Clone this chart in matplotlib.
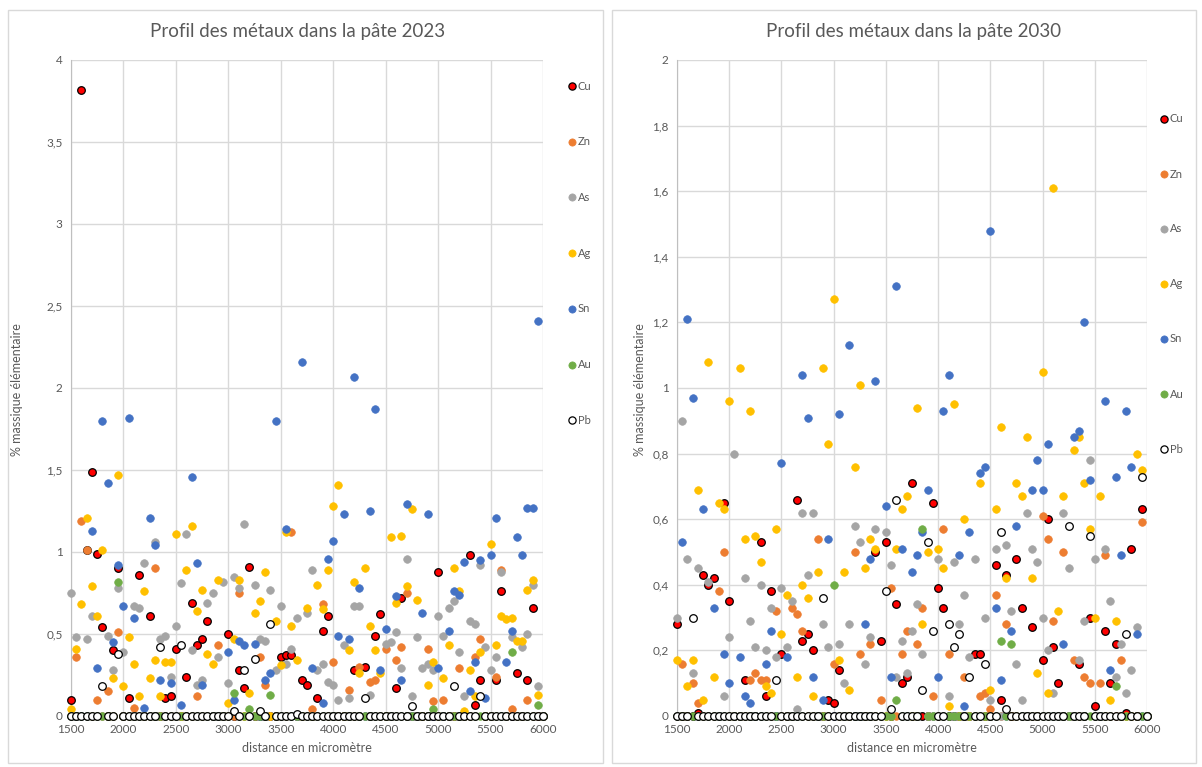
import matplotlib
matplotlib.use("Agg")
import matplotlib.pyplot as plt
from matplotlib.patches import Rectangle
from matplotlib.ticker import FuncFormatter
from matplotlib.lines import Line2D

# ---------------- data ----------------
distance = list(range(1500, 6001, 50))
series_names = ["Cu", "Zn", "As", "Ag", "Sn", "Au", "Pb"]

# 2023 (values not listed are 0)
cu_2023 = {1500: 0.10, 1600: 3.82, 1650: 1.01, 1700: 1.49, 1750: 0.99, 1800: 0.54, 1900: 0.40, 1950: 0.90,
           2050: 0.11, 2150: 0.86, 2250: 0.61, 2400: 0.11, 2450: 0.12, 2500: 0.41, 2600: 0.24, 2650: 0.69,
           2700: 0.43, 2750: 0.47, 2800: 0.58, 3000: 0.50, 3100: 0.28, 3150: 0.17, 3200: 0.91, 3500: 0.36,
           3550: 0.37, 3600: 0.37, 3700: 0.22, 3750: 0.19, 3850: 0.11, 3900: 0.52, 3950: 0.61, 4200: 0.28,
           4300: 0.30, 4400: 0.49, 4450: 0.62, 4600: 0.17, 4650: 0.72, 5000: 0.88, 5300: 0.98, 5350: 0.07,
           5400: 0.22, 5550: 0.22, 5600: 0.76, 5750: 0.26, 5850: 0.22, 5900: 0.66}
zn_2023 = {1550: 0.36, 1600: 1.19, 1650: 1.01, 1750: 0.10, 1850: 0.15, 1950: 0.51, 2100: 0.05, 2300: 0.90,
           2700: 0.12, 2900: 0.43, 3100: 0.75, 3300: 0.36, 3350: 0.19, 3600: 1.12, 3800: 0.04, 3900: 0.68,
           4000: 0.33, 4150: 0.16, 4250: 0.30, 4350: 0.21, 4400: 0.22, 4500: 0.41, 4600: 0.34, 4650: 0.42,
           4700: 0.75, 4900: 0.41, 4950: 0.09, 5050: 0.10, 5200: 0.29, 5350: 0.36, 5400: 0.47, 5550: 0.24,
           5600: 0.89, 5700: 0.04, 5850: 0.10}
as_2023 = {1500: 0.75, 1550: 0.48, 1650: 0.47, 1700: 0.61, 1850: 0.49, 1900: 0.28, 1950: 0.78, 2000: 0.39,
           2100: 0.67, 2150: 0.66, 2200: 0.93, 2300: 1.06, 2350: 0.47, 2400: 0.49, 2450: 0.24, 2500: 0.55,
           2550: 0.81, 2600: 1.11, 2650: 0.40, 2700: 0.19, 2750: 0.22, 2800: 0.69, 2850: 0.75, 2900: 0.36,
           2950: 0.82, 3000: 0.20, 3050: 0.85, 3100: 0.78, 3150: 1.17, 3250: 0.80, 3300: 0.47, 3350: 0.46,
           3400: 0.77, 3450: 0.28, 3500: 0.67, 3550: 0.32, 3600: 0.41, 3650: 0.60, 3750: 0.63, 3800: 0.89,
           3850: 0.28, 3900: 0.32, 3950: 0.21, 4000: 0.19, 4050: 0.10, 4100: 0.43, 4150: 0.11, 4200: 0.67,
           4250: 0.67, 4350: 0.13, 4500: 0.44, 4550: 0.45, 4600: 0.51, 4650: 0.29, 4700: 0.96, 4750: 0.12,
           4800: 0.48, 4850: 0.29, 4900: 0.32, 4950: 0.28, 5000: 0.61, 5050: 0.49, 5100: 0.66, 5150: 0.70,
           5200: 0.39, 5250: 0.12, 5300: 0.58, 5350: 0.56, 5400: 0.92, 5450: 0.42, 5500: 0.28, 5550: 0.36,
           5600: 0.88, 5700: 0.48, 5800: 0.42, 5850: 0.50, 5900: 0.80, 5950: 0.18}
ag_2023 = {1500: 0.04, 1550: 0.41, 1600: 0.68, 1650: 1.21, 1700: 0.79, 1750: 0.61, 1800: 1.01, 1900: 0.23,
           1950: 1.47, 2000: 0.18, 2050: 0.48, 2100: 0.32, 2150: 0.12, 2200: 0.76, 2250: 0.23, 2300: 0.34,
           2350: 0.12, 2400: 0.33, 2450: 0.33, 2500: 1.11, 2600: 0.89, 2650: 1.16, 2700: 0.64, 2750: 0.77,
           2800: 0.38, 2850: 0.32, 2900: 0.83, 3000: 0.08, 3050: 0.47, 3100: 0.83, 3200: 0.14, 3250: 0.63,
           3300: 0.70, 3350: 0.88, 3450: 0.58, 3500: 0.31, 3550: 1.12, 3600: 0.55, 3650: 0.34, 3750: 0.66,
           3850: 0.80, 3900: 0.65, 3950: 0.89, 4000: 1.28, 4050: 1.41, 4150: 0.40, 4200: 0.82, 4250: 0.26,
           4300: 0.90, 4350: 0.55, 4400: 0.40, 4450: 0.26, 4550: 1.09, 4600: 0.69, 4650: 1.10, 4700: 0.79,
           4750: 1.26, 4800: 0.71, 4900: 0.19, 4950: 0.33, 5050: 0.23, 5100: 0.43, 5150: 0.90, 5200: 0.76,
           5250: 0.03, 5300: 0.28, 5350: 0.12, 5400: 0.39, 5500: 1.05, 5550: 0.43, 5600: 0.61, 5650: 0.59,
           5700: 0.60, 5750: 0.46, 5800: 0.46, 5850: 0.77, 5900: 0.83, 5950: 0.13}
sn_2023 = {1700: 1.13, 1750: 0.29, 1800: 1.80, 1850: 1.42, 1900: 0.45, 1950: 0.92, 2000: 0.67, 2050: 1.82,
           2100: 0.60, 2200: 0.05, 2250: 1.21, 2300: 1.04, 2350: 0.22, 2450: 0.20, 2550: 0.07, 2650: 1.46,
           2700: 0.93, 2750: 0.19, 3000: 0.39, 3050: 0.10, 3100: 0.46, 3150: 0.43, 3250: 0.44, 3350: 0.22,
           3400: 0.26, 3450: 1.80, 3550: 1.14, 3700: 2.16, 3800: 0.29, 3900: 0.08, 3950: 0.96, 4000: 1.07,
           4050: 0.49, 4100: 1.23, 4150: 0.47, 4200: 2.07, 4250: 0.78, 4350: 1.25, 4400: 1.87, 4450: 0.28,
           4500: 0.53, 4600: 0.73, 4650: 0.22, 4700: 1.29, 4850: 0.63, 4900: 1.23, 5000: 0.29, 5100: 0.52,
           5150: 0.76, 5200: 0.74, 5250: 0.94, 5300: 0.15, 5350: 0.33, 5400: 0.95, 5450: 0.11, 5500: 0.98,
           5550: 1.21, 5650: 0.33, 5700: 0.52, 5750: 1.09, 5800: 0.98, 5850: 1.27, 5900: 1.27, 5950: 2.41}
au_2023 = {1950: 0.82, 3050: 0.14, 3200: 0.04, 3400: 0.13, 4950: 0.04, 5700: 0.39, 5950: 0.07}
pb_2023 = {1800: 0.18, 1950: 0.38, 2350: 0.42, 2550: 0.43, 3050: 0.03, 3150: 0.28, 3250: 0.35, 3300: 0.03,
           3400: 0.56, 3650: 0.01, 4300: 0.11, 4750: 0.06, 5150: 0.18, 5400: 0.12}

# 2030 (values not listed are 0)
cu_2030 = {1500: 0.28, 1700: 0.01, 1750: 0.43, 1800: 0.40, 1850: 0.42, 1950: 0.65, 2000: 0.35, 2150: 0.11,
           2300: 0.53, 2350: 0.06, 2400: 0.38, 2500: 0.19, 2650: 0.66, 2700: 0.23, 2750: 0.25, 2800: 0.20,
           2950: 0.05, 3000: 0.04, 3050: 0.14, 3400: 0.50, 3450: 0.23, 3500: 0.53, 3600: 0.34, 3650: 0.10,
           3700: 0.12, 3750: 0.71, 3950: 0.65, 4000: 0.39, 4050: 0.33, 4350: 0.19, 4400: 0.19, 4550: 0.46,
           4600: 0.05, 4650: 0.43, 4750: 0.48, 4800: 0.33, 4900: 0.27, 5000: 0.17, 5050: 0.60, 5100: 0.21,
           5150: 0.10, 5350: 0.16, 5450: 0.30, 5500: 0.03, 5600: 0.26, 5650: 0.10, 5700: 0.22, 5800: 0.01,
           5850: 0.51, 5950: 0.63}
zn_2030 = {1550: 0.16, 1650: 0.10, 1700: 0.04, 1900: 0.38, 1950: 0.50, 2200: 0.11, 2250: 0.13, 2300: 0.11,
           2350: 0.11, 2450: 0.32, 2600: 0.33, 2650: 0.31, 2700: 0.26, 2850: 0.54, 3000: 0.16, 3200: 0.50,
           3250: 0.19, 3350: 0.22, 3450: 0.05, 3550: 0.39, 3650: 0.19, 3700: 0.26, 3800: 0.22, 3850: 0.33,
           3950: 0.06, 4050: 0.57, 4100: 0.19, 4250: 0.12, 4400: 0.06, 4450: 0.07, 4500: 0.02, 4550: 0.37,
           4650: 0.28, 5000: 0.61, 5050: 0.54, 5100: 0.29, 5200: 0.50, 5300: 0.17, 5400: 0.12, 5450: 0.10,
           5550: 0.10, 5600: 0.49, 5750: 0.17, 5950: 0.59}
as_2030 = {1500: 0.30, 1550: 0.90, 1600: 0.48, 1650: 0.13, 1700: 0.45, 1800: 0.41, 1950: 0.06, 2000: 0.24,
           2050: 0.80, 2150: 0.42, 2200: 0.29, 2250: 0.21, 2300: 0.40, 2350: 0.20, 2400: 0.33, 2450: 0.18,
           2500: 0.39, 2550: 0.21, 2600: 0.35, 2650: 0.02, 2700: 0.62, 2750: 0.43, 2800: 0.62, 2900: 0.28,
           2950: 0.21, 3050: 0.22, 3100: 0.10, 3150: 0.28, 3200: 0.58, 3250: 0.53, 3300: 0.16, 3350: 0.24,
           3400: 0.57, 3500: 0.56, 3550: 0.46, 3600: 0.12, 3650: 0.23, 3700: 0.13, 3750: 0.26, 3800: 0.34,
           3850: 0.19, 4000: 0.48, 4100: 0.06, 4150: 0.47, 4200: 0.28, 4250: 0.37, 4300: 0.18, 4350: 0.48,
           4450: 0.30, 4500: 0.05, 4550: 0.51, 4650: 0.52, 4700: 0.32, 4750: 0.16, 4800: 0.05, 4850: 0.62,
           4900: 0.51, 4950: 0.47, 5000: 0.30, 5050: 0.20, 5100: 0.07, 5200: 0.62, 5250: 0.45, 5350: 0.17,
           5400: 0.29, 5450: 0.78, 5500: 0.48, 5600: 0.51, 5650: 0.35, 5700: 0.12, 5750: 0.22, 5800: 0.07,
           5850: 0.14, 5900: 0.27}
ag_2030 = {1500: 0.17, 1600: 0.09, 1650: 0.17, 1700: 0.69, 1750: 0.05, 1800: 1.08, 1850: 0.12, 1900: 0.65,
           1950: 0.63, 2000: 0.96, 2100: 1.06, 2150: 0.54, 2200: 0.93, 2250: 0.55, 2300: 0.47, 2350: 0.09,
           2400: 0.07, 2450: 0.57, 2500: 0.25, 2550: 0.37, 2650: 0.12, 2700: 0.40, 2750: 0.36, 2800: 0.06,
           2850: 0.44, 2900: 1.06, 2950: 0.83, 3000: 1.27, 3050: 0.17, 3100: 0.44, 3150: 0.08, 3200: 0.76,
           3250: 1.01, 3300: 0.45, 3350: 0.54, 3400: 0.51, 3600: 0.51, 3650: 0.63, 3700: 0.67, 3800: 0.94,
           3850: 0.28, 3900: 0.50, 4000: 0.51, 4050: 0.45, 4100: 0.03, 4150: 0.95, 4250: 0.60, 4400: 0.71,
           4500: 0.08, 4550: 0.63, 4600: 0.88, 4650: 0.42, 4750: 0.71, 4800: 0.67, 4850: 0.85, 4900: 0.42,
           4950: 0.13, 5000: 1.05, 5050: 0.07, 5100: 1.61, 5150: 0.32, 5200: 0.67, 5300: 0.81, 5350: 0.85,
           5400: 0.71, 5450: 0.57, 5500: 0.30, 5550: 0.67, 5650: 0.05, 5700: 0.29, 5900: 0.80, 5950: 0.75}
sn_2030 = {1550: 0.53, 1600: 1.21, 1650: 0.97, 1750: 0.63, 1850: 0.33, 1950: 0.19, 2000: 0.10, 2100: 0.18,
           2150: 0.06, 2200: 0.04, 2350: 0.16, 2400: 0.26, 2500: 0.77, 2550: 0.18, 2700: 1.04, 2750: 0.91,
           2800: 0.12, 2900: 0.05, 2950: 0.54, 3050: 0.92, 3150: 1.13, 3300: 0.28, 3350: 0.48, 3400: 1.02,
           3500: 0.64, 3550: 0.12, 3600: 1.31, 3650: 0.51, 3750: 0.44, 3800: 0.49, 3850: 0.56, 3900: 0.69,
           4000: 0.12, 4050: 0.93, 4100: 1.04, 4200: 0.49, 4250: 0.03, 4300: 0.56, 4400: 0.74, 4450: 0.76,
           4500: 1.48, 4550: 0.33, 4600: 0.11, 4700: 0.26, 4750: 0.58, 4900: 0.69, 4950: 0.78, 5000: 0.69,
           5050: 0.83, 5200: 0.22, 5300: 0.85, 5350: 0.87, 5400: 1.20, 5450: 0.72, 5600: 0.96, 5650: 0.14,
           5700: 0.73, 5750: 0.49, 5800: 0.93, 5850: 0.76, 5900: 0.25}
au_2030 = {3000: 0.40, 3600: 0.05, 3850: 0.57, 4600: 0.23, 4700: 0.22, 5700: 0.09}
pb_2030 = {1650: 0.30, 2450: 0.11, 2900: 0.36, 3500: 0.38, 3550: 0.02, 3600: 0.66, 3850: 0.08, 3900: 0.53,
           3950: 0.26, 4100: 0.28, 4150: 0.21, 4200: 0.25, 4300: 0.12, 4450: 0.16, 4600: 0.56, 4650: 0.02,
           5250: 0.58, 5450: 0.55, 5800: 0.25, 5950: 0.73}

titles = ["Profil des métaux dans la pâte 2023", "Profil des métaux dans la pâte 2030"]
xticks = [1500, 2000, 2500, 3000, 3500, 4000, 4500, 5000, 5500, 6000]
yticks_2023 = [0, 0.5, 1, 1.5, 2, 2.5, 3, 3.5, 4]
yticks_2030 = [0, 0.2, 0.4, 0.6, 0.8, 1, 1.2, 1.4, 1.6, 1.8, 2]

# ---------------- style ----------------
face = {"Cu": "#FF0000", "Zn": "#ED7D31", "As": "#A5A5A5", "Ag": "#FFC000",
        "Sn": "#4472C4", "Au": "#70AD47", "Pb": "#FFFFFF"}
edge = {"Cu": "#000000", "Zn": "#ED7D31", "As": "#A5A5A5", "Ag": "#FFC000",
        "Sn": "#4472C4", "Au": "#70AD47", "Pb": "#000000"}
lw = {"Cu": 0.9, "Zn": 0.5, "As": 0.5, "Ag": 0.5, "Sn": 0.5, "Au": 0.5, "Pb": 0.9}
txt = "#595959"
grid = "#D9D9D9"
plt.rcParams["font.family"] = ["Lato", "DejaVu Sans"]

W, H = 1202, 767
fig = plt.figure(figsize=(W / 100, H / 100), dpi=100)

def fx(px): return px / W
def fy(py): return 1 - py / H

# chart-area borders
for (x0, x1) in [(8, 603), (612, 1196)]:
    fig.patches.append(Rectangle((fx(x0), fy(763)), fx(x1 - x0), (763 - 10) / H,
                                 transform=fig.transFigure, fill=False, edgecolor=grid, lw=1))

panels = [
    dict(data=[cu_2023, zn_2023, as_2023, ag_2023, sn_2023, au_2023, pb_2023], ymax=4, yt=yticks_2023,
         ax=(71, 543), title_x=298, leg_x=572, leg_y0=86, leg_dy=55.7, ylab_x=17, xlab_x=307),
    dict(data=[cu_2030, zn_2030, as_2030, ag_2030, sn_2030, au_2030, pb_2030], ymax=2, yt=yticks_2030,
         ax=(677, 1147), title_x=914, leg_x=1164, leg_y0=119, leg_dy=55, ylab_x=640, xlab_x=912),
]

def fmt(v, pos):
    s = ("%g" % v)
    return s.replace(".", ",")

for i, p in enumerate(panels):
    x0, x1 = p["ax"]
    ax = fig.add_axes([fx(x0), fy(716), fx(x1 - x0), (716 - 60) / H])
    ax.set_xlim(1500, 6000)
    ax.set_ylim(0, p["ymax"])
    ax.set_xticks(xticks)
    ax.set_yticks(p["yt"])
    ax.yaxis.set_major_formatter(FuncFormatter(fmt))
    ax.grid(True, color=grid, lw=1)
    ax.set_axisbelow(True)
    for s in ["top", "right", "bottom"]:
        ax.spines[s].set_visible(False)
    ax.spines["left"].set_color("#BFBFBF")
    ax.tick_params(length=0, labelsize=8.5, colors=txt, pad=6)
    for name, d in zip(series_names, p["data"]):
        ys = [d.get(x, 0) for x in distance]
        ax.scatter(distance, ys, s=30, c=face[name], edgecolors=edge[name], linewidths=lw[name],
                   clip_on=False, zorder=3)
    fig.text(fx(p["title_x"]), fy(32), titles[i], ha="center", va="center", fontsize=13.5, color=txt)
    fig.text(fx(p["ylab_x"]), fy(390), "% massique élémentaire", rotation=90, ha="center", va="center",
             fontsize=9, color=txt)
    fig.text(fx(p["xlab_x"]), fy(748), "distance en micromètre", ha="center", va="center",
             fontsize=9, color=txt)
    # legend
    for k, name in enumerate(series_names):
        yy = p["leg_y0"] + k * p["leg_dy"]
        fig.add_artist(Line2D([fx(p["leg_x"])], [fy(yy)], transform=fig.transFigure, marker="o",
                              markersize=5.2, markerfacecolor=face[name], markeredgecolor=edge[name],
                              markeredgewidth=lw[name], linestyle="none"))
        fig.text(fx(p["leg_x"] + 6), fy(yy), name, ha="left", va="center", fontsize=8, color=txt)

fig.savefig("out.png", dpi=100, facecolor="white")
